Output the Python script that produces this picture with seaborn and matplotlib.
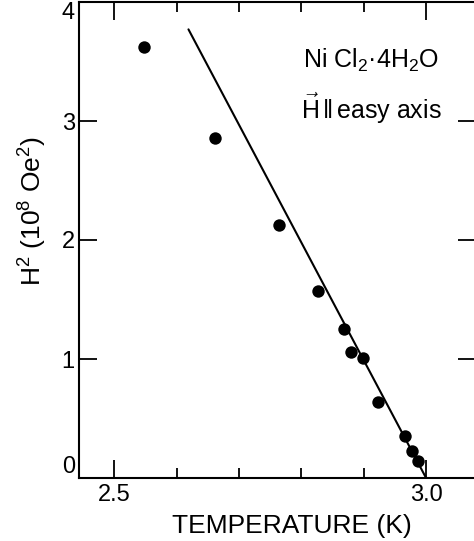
import matplotlib
matplotlib.use('Agg')
import matplotlib.pyplot as plt
import seaborn as sns
import pandas as pd

# measured points, H^2 in units of 1e8 Oe^2
temperature = [2.548, 2.662, 2.764, 2.827, 2.869, 2.880, 2.899, 2.923, 2.966, 2.978, 2.987]
h_squared = [3.62, 2.86, 2.13, 1.57, 1.25, 1.06, 1.01, 0.64, 0.35, 0.23, 0.14]

# straight-line fit drawn through the points
fit_t = [2.619, 3.0]
fit_h2 = [3.77, 0.0]

x_ticks = [2.5, 3.0]
x_tick_labels = ['2.5', '3.0']
x_minor = [2.6, 2.7, 2.8, 2.9]
y_ticks = [0, 1, 2, 3, 4]


def plot_h2_vs_temperature():
    """ H^2 vs temperature with linear fit. """
    sns.set_theme(style='ticks')
    plt.rcParams['font.family'] = ['Liberation Sans', 'DejaVu Sans']
    plt.rcParams['mathtext.fontset'] = 'custom'
    plt.rcParams['mathtext.rm'] = 'Liberation Sans'
    plt.rcParams['mathtext.it'] = 'Liberation Sans:italic'
    plt.rcParams['mathtext.bf'] = 'Liberation Sans:bold'
    plt.rcParams['text.color'] = 'black'
    plt.rcParams['axes.labelcolor'] = 'black'
    plt.rcParams['xtick.color'] = 'black'
    plt.rcParams['ytick.color'] = 'black'

    fig = plt.figure(figsize=(4.74, 5.41), dpi=100)
    ax = fig.add_axes([79 / 474, 63 / 541, 397 / 474, 476 / 541])

    pts = pd.DataFrame({'T': temperature, 'H2': h_squared})
    fit = pd.DataFrame({'T': fit_t, 'H2': fit_h2})
    sns.lineplot(data=fit, x='T', y='H2', color='black', linewidth=1.5, sort=False, ax=ax)
    sns.scatterplot(data=pts, x='T', y='H2', color='black', s=80, edgecolor='black', linewidth=0, ax=ax, zorder=3)

    ax.set_xlim(2.4435, 3.08)
    ax.set_ylim(0, 4)
    ax.set_xticks(x_ticks)
    ax.set_xticklabels(x_tick_labels)
    ax.set_xticks(x_minor, minor=True)
    ax.set_yticks(y_ticks)
    ax.set_yticklabels([str(v) for v in y_ticks])

    ax.tick_params(which='major', direction='in', length=13, width=1.3, top=True, right=True,
                   labelsize=17, color='black', labelcolor='black')
    ax.tick_params(which='minor', direction='in', length=7, width=1.3, top=True, right=True, color='black')
    ax.tick_params(axis='x', pad=4)
    ax.tick_params(axis='y', pad=3)
    ylabels = ax.get_yticklabels()
    ylabels[0].set_va('bottom')
    ylabels[-1].set_va('top')

    for side in ['left', 'bottom', 'top', 'right']:
        ax.spines[side].set_linewidth(1.5)
        ax.spines[side].set_color('black')

    ax.set_xlabel('TEMPERATURE (K)', fontsize=19)
    ax.xaxis.set_label_coords(0.537, -0.076)
    ax.set_ylabel(r'H$^2$ (10$^8$ Oe$^2$)', fontsize=19)
    ax.yaxis.set_label_coords(-0.075, 0.561)

    ax.text(2.912, 3.45, r'Ni Cl$_2$·4H$_2$O', fontsize=18, ha='center', va='baseline')
    ax.text(2.912, 3.015, r'$\vec{\mathrm{H}}\,\Vert\,$easy axis', fontsize=18, ha='center', va='baseline')

    fig.savefig('out.png', dpi=100)


if __name__ == '__main__':
    plot_h2_vs_temperature()
